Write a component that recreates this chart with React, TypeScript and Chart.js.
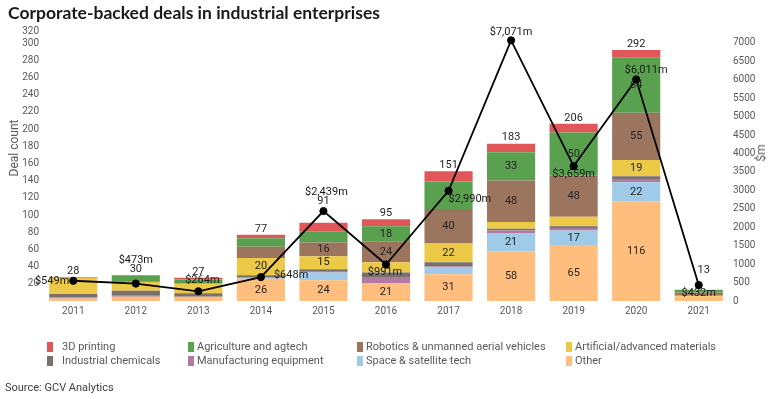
import React, { useEffect, useRef } from "react";
import { Chart, registerables } from "chart.js";

Chart.register(...registerables);

// ---------- data ----------
const years = ["2011", "2012", "2013", "2014", "2015", "2016", "2017", "2018", "2019", "2020", "2021"];
const printing3D = [1, 0, 2, 4, 10, 8, 12, 10, 10, 9, 0];
const agriculture = [0, 7, 5, 10, 13, 18, 32, 33, 50, 64, 3];
const robotics = [0, 1, 0, 13, 16, 24, 40, 48, 48, 55, 4];
const materials = [19, 10, 11, 20, 15, 12, 22, 8, 11, 19, 1];
const chemicals = [4, 6, 4, 3, 2, 5, 5, 2, 2, 3, 0];
const manufacturing = [1, 1, 0, 0, 2, 7, 1, 3, 3, 4, 0];
const space = [0, 0, 0, 1, 9, 0, 8, 21, 17, 22, 0];
const other = [3, 5, 5, 26, 24, 21, 31, 58, 65, 116, 5];
const capitalM = [549, 473, 264, 648, 2439, 991, 2990, 7071, 3659, 6011, 432];

const leftTicks = [20, 40, 60, 80, 100, 120, 140, 160, 180, 200, 220, 240, 260, 280, 300, 320];
const rightTicks = [0, 500, 1000, 1500, 2000, 2500, 3000, 3500, 4000, 4500, 5000, 5500, 6000, 6500, 7000];
const rightMax = 7325;
const leftMax = 314;

// series in stacking order (bottom first)
const series = [
  { name: "Other", values: other, color: "#ffbe7d" },
  { name: "Space & satellite tech", values: space, color: "#a0cbe8" },
  { name: "Manufacturing equipment", values: manufacturing, color: "#b07aa1" },
  { name: "Industrial chemicals", values: chemicals, color: "#79706e" },
  { name: "Artificial/advanced materials", values: materials, color: "#edc948" },
  { name: "Robotics & unmanned aerial vehicles", values: robotics, color: "#9c755f" },
  { name: "Agriculture and agtech", values: agriculture, color: "#59a14f" },
  { name: "3D printing", values: printing3D, color: "#e15759" },
];

const legendOrder = [
  "3D printing", "Agriculture and agtech", "Robotics & unmanned aerial vehicles", "Artificial/advanced materials",
  "Industrial chemicals", "Manufacturing equipment", "Space & satellite tech", "Other",
];

const minSegmentLabel = 15;
const hiddenSegmentLabels = [["Artificial/advanced materials", "2011"], ["Agriculture and agtech", "2017"]];

// label placement for line values: [dx, dy, align]
const lineLabelPlacement: [number, number, CanvasTextAlign][] = [
  [-4, 0, "right"], [0, -23, "center"], [4, -11, "center"], [13, -2, "left"], [3, -19, "center"],
  [-1, 8, "center"], [0, 8, "left"], [0, -8, "center"], [0, 8, "center"], [10, -9, "center"], [0, 8, "center"],
];
// extra offsets for stack totals: [dx, dy]
const totalPlacement: [number, number][] = [
  [0, 0], [0, 0], [0, 0], [0, 0], [0, -16], [0, 0], [0, 0], [0, 0], [0, 0], [0, 0], [5, -14],
];

const FONT = "Roboto, 'Liberation Sans', sans-serif";

export default function App() {
  const ref = useRef<HTMLCanvasElement | null>(null);

  useEffect(() => {
    if (!ref.current) return;
    const totals = years.map((_, i) => series.reduce((s, d) => s + d.values[i], 0));

    const labelPlugin = {
      id: "valueLabels",
      afterDatasetsDraw(chart: any) {
        const ctx = chart.ctx;
        ctx.save();
        ctx.textBaseline = "middle";
        ctx.font = `11px ${FONT}`;
        ctx.fillStyle = "#262626";
        ctx.textAlign = "center";
        series.forEach((s, di) => {
          const meta = chart.getDatasetMeta(di);
          meta.data.forEach((el: any, i: number) => {
            const v = s.values[i];
            if (v < minSegmentLabel) return;
            if (hiddenSegmentLabels.some(([n, y]) => n === s.name && y === years[i])) return;
            const p = el.getProps(["x", "y", "base"], true);
            ctx.fillText(String(v), p.x, (p.y + p.base) / 2);
          });
        });
        const xs = chart.scales.x;
        const ys = chart.scales.y;
        totals.forEach((t, i) => {
          const [dx, dy] = totalPlacement[i];
          ctx.fillText(String(t), xs.getPixelForValue(i) + dx, ys.getPixelForValue(t) - 6 + dy);
        });
        const lm = chart.getDatasetMeta(series.length);
        lm.data.forEach((el: any, i: number) => {
          const [dx, dy, al] = lineLabelPlacement[i];
          ctx.textAlign = al;
          ctx.fillStyle = "#1a1a1a";
          ctx.fillText("$" + capitalM[i].toLocaleString("en-US") + "m", el.x + dx, el.y + dy);
        });
        ctx.restore();
      },
    };

    const chart = new Chart(ref.current, {
      type: "bar",
      data: {
        labels: years,
        datasets: [
          ...series.map((s) => ({
            type: "bar" as const,
            label: s.name,
            data: s.values,
            backgroundColor: s.color,
            yAxisID: "y",
            stack: "deals",
            barPercentage: 0.77,
            categoryPercentage: 1,
            order: 1,
          })),
          {
            type: "line" as const,
            label: "$m",
            data: capitalM,
            yAxisID: "y1",
            borderColor: "#000",
            backgroundColor: "#000",
            borderWidth: 1.8,
            pointRadius: 3.6,
            pointBorderWidth: 1,
            pointBackgroundColor: "#000",
            tension: 0,
            order: 0,
          },
        ],
      } as any,
      options: {
        animation: false,
        responsive: false,
        layout: { padding: { top: 31, left: 0, right: 0, bottom: 0 } },
        plugins: { legend: { display: false }, tooltip: { enabled: false }, title: { display: false } },
        scales: {
          x: {
            stacked: true,
            grid: { display: false, drawTicks: false },
            border: { display: false },
            ticks: { color: "#595959", font: { family: FONT, size: 10 }, padding: 4, maxRotation: 0 },
            afterFit: (s: any) => { s.height = 98; },
          },
          y: {
            stacked: true,
            position: "left",
            min: 0,
            max: leftMax,
            grid: { display: false, drawTicks: false },
            border: { display: false },
            afterBuildTicks: (s: any) => {
              s.ticks = leftTicks.map((v) => ({ value: Math.min(v, leftMax) }));
            },
            ticks: {
              autoSkip: false,
              color: "#595959",
              font: { family: FONT, size: 10 },
              padding: 3,
              callback: (_v: any, i: number) => String(leftTicks[i]),
            },
            afterFit: (s: any) => { s.width = 42; },
          },
          y1: {
            position: "right",
            min: 0,
            max: rightMax,
            grid: { display: false, drawTicks: false },
            border: { display: false },
            afterBuildTicks: (s: any) => {
              s.ticks = rightTicks.map((v) => ({ value: v }));
            },
            ticks: {
              autoSkip: false,
              color: "#595959",
              font: { family: FONT, size: 10 },
              padding: 3,
              callback: (_v: any, i: number) => String(rightTicks[i]),
            },
            afterFit: (s: any) => { s.width = 38; },
          },
        },
      } as any,
      plugins: [labelPlugin],
    });
    return () => chart.destroy();
  }, []);

  const legendCols = [47, 188, 357, 566];
  const legendRows = [347, 361];

  return (
    <div style={{ position: "fixed", left: 0, top: 0, width: 768, height: 399, background: "#fff", fontFamily: FONT }}>
      <canvas ref={ref} width={768} height={399} style={{ position: "absolute", left: 0, top: 0, width: 768, height: 399 }} />
      <div style={{ position: "absolute", left: 8, top: 2, fontFamily: "Lato, sans-serif", fontWeight: 700, fontSize: 17.5, color: "#1a1a1a", whiteSpace: "nowrap" }}>
        Corporate-backed deals in industrial enterprises
      </div>
      <div style={{ position: "absolute", left: 14, top: 148, transform: "translate(-50%, -50%) rotate(-90deg)", fontSize: 12, color: "#595959", whiteSpace: "nowrap" }}>
        Deal count
      </div>
      <div style={{ position: "absolute", left: 761, top: 153, transform: "translate(-50%, -50%) rotate(-90deg)", fontSize: 12, color: "#595959", whiteSpace: "nowrap" }}>
        $m
      </div>
      {legendOrder.map((name, k) => {
        const s = series.find((d) => d.name === name)!;
        const col = k % 4;
        const row = Math.floor(k / 4);
        const x = legendCols[col];
        const y = legendRows[row];
        return (
          <div key={name}>
            <div style={{ position: "absolute", left: x, top: y - 5, width: 6, height: 10, background: s.color }} />
            <div style={{ position: "absolute", left: x + 15 - (col === 0 ? 0 : 6), top: y - 8, fontSize: 11, lineHeight: "16px", color: "#595959", whiteSpace: "nowrap" }}>
              {name}
            </div>
          </div>
        );
      })}
      <div style={{ position: "absolute", left: 5, top: 380, fontSize: 11, lineHeight: "16px", color: "#404040", whiteSpace: "nowrap" }}>
        Source: GCV Analytics
      </div>
    </div>
  );
}
